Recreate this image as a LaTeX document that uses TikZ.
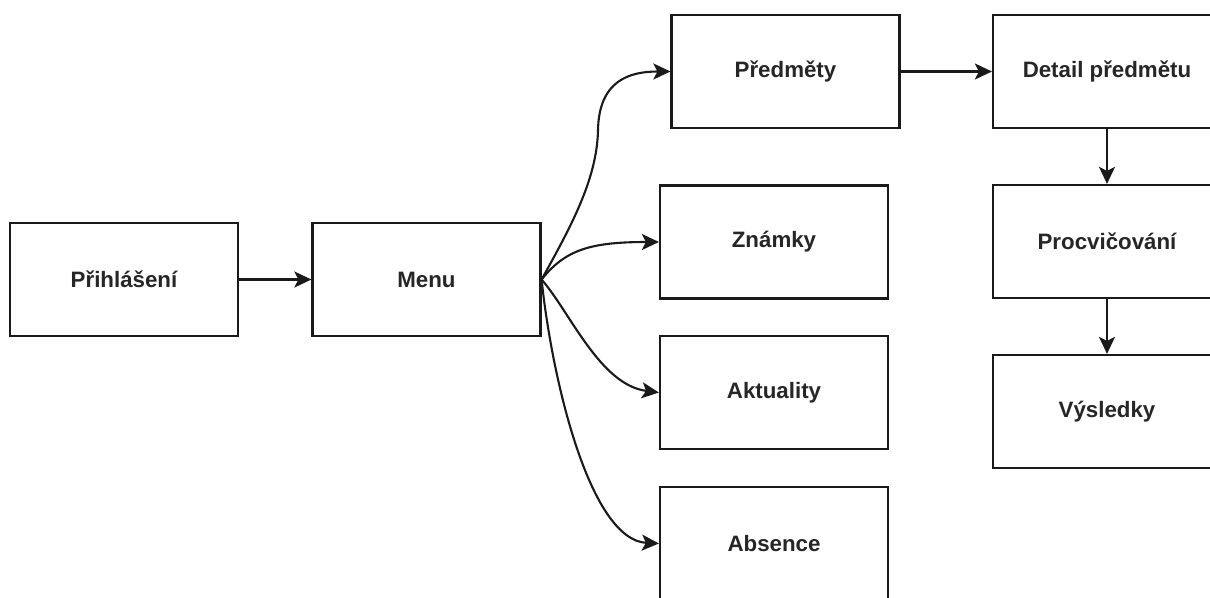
\documentclass[tikz,border=0pt]{standalone}
\usepackage{fontspec}
\setmainfont{Liberation Sans}
\usetikzlibrary{arrows.meta}
\definecolor{ink}{HTML}{1A1A1A}
\definecolor{label}{HTML}{262626}
\tikzset{
  screen/.style={draw=ink, line width=2.2pt, rectangle, inner sep=0pt,
    minimum width=228pt, minimum height=113pt, fill=white,
    font=\fontsize{22.3pt}{27pt}\selectfont\bfseries, text=label},
  link/.style={draw=ink, line width=2.1pt,
    -{Stealth[length=17pt, width=16pt, inset=4pt]}}
}
\begin{document}
\begin{tikzpicture}[x=1pt, y=-1pt]
  \useasboundingbox[fill=white] (0,0) rectangle (1210,597);
  \begin{scope}
    \clip (0,0) rectangle (1210,597);
    % screens
    \node[screen] (prih) at (124,279.5)   {Přihlášení};
    \node[screen] (menu) at (426.5,279.5) {Menu};
    \node[screen] (pred) at (785.5,71.5)  {Předměty};
    \node[screen] (znam) at (774,242)     {Známky};
    \node[screen] (akt)  at (774,392.5)   {Aktuality};
    \node[screen] (abs)  at (774,543.5)   {Absence};
    \node[screen] (det)  at (1107,71.5)   {Detail předmětu};
    \node[screen] (proc) at (1107,241.5)  {Procvičování};
    \node[screen] (vys)  at (1107,411.5)  {Výsledky};
    % straight links
    \draw[link] (prih) -- (menu);
    \draw[link] (pred) -- (det);
    \draw[link] (det) -- (proc);
    \draw[link] (proc) -- (vys);
    % curved links out of the menu
    \draw[link] (menu.east) .. controls (570,228) and (597,180) .. (598,130)
                            .. controls (599,80) and (630,71.5) .. (pred.west);
    \draw[link] (menu.east) .. controls (565,250) and (590,242) .. (znam.west);
    \draw[link] (menu.east) .. controls (570,312) and (600,385) .. (akt.west);
    \draw[link] (menu.east) .. controls (552,380) and (590,540) .. (abs.west);
  \end{scope}
\end{tikzpicture}
\end{document}
